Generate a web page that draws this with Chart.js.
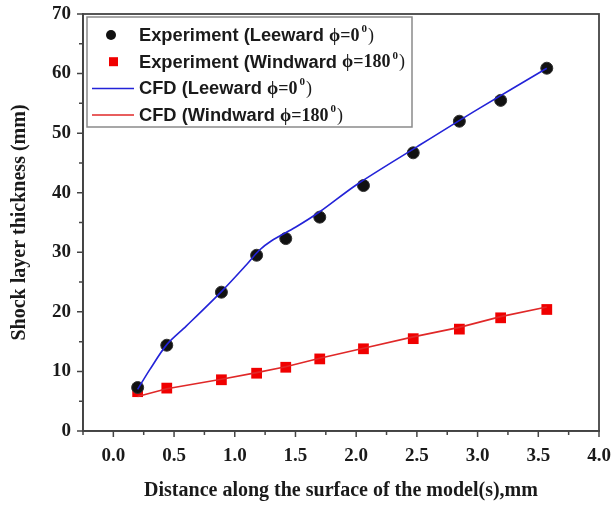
<!DOCTYPE html>
<html>
<head>
<meta charset="utf-8">
<script src="https://cdn.jsdelivr.net/npm/chart.js@4.4.1/dist/chart.umd.min.js"></script>
<style>
  html, body { margin: 0; padding: 0; background: #fff; }
  #wrap { width: 615px; height: 505px; }
</style>
</head>
<body>
<div id="wrap"><canvas id="shockChart" width="615" height="505"></canvas></div>
<script>
// experiment positions along the surface (mm)
const expX = [0.2, 0.44, 0.89, 1.18, 1.42, 1.70, 2.06, 2.47, 2.85, 3.19, 3.57];
const expLeeward = [7.3, 14.4, 23.3, 29.5, 32.3, 35.9, 41.2, 46.7, 52.0, 55.5, 60.9];
const expWindward = [6.6, 7.2, 8.6, 9.7, 10.7, 12.1, 13.8, 15.5, 17.1, 19.0, 20.4];

// CFD curves
const cfdLeewardX = [0.2, 0.3, 0.44, 0.6, 0.89, 1.1, 1.2, 1.3, 1.5, 1.7, 2.0, 2.5, 3.0, 3.57];
const cfdLeeward = [7.0, 10.3, 14.5, 17.6, 23.4, 28.0, 30.3, 31.9, 34.2, 36.8, 41.3, 47.7, 54.0, 60.9];
const cfdWindwardX = [0.2, 0.44, 0.89, 1.18, 1.42, 1.7, 2.06, 2.47, 2.85, 3.19, 3.57];
const cfdWindward = [5.8, 7.1, 8.7, 9.8, 10.8, 12.2, 13.9, 15.8, 17.4, 19.2, 20.8];

const xMajor = 0.5, xMinor = 0.25;
const yMajor = 10, yMinor = 5;

const legendItems = [
  { kind: "circle", color: "#111", text: "Experiment (Leeward ", ang: "0" },
  { kind: "square", color: "#f00000", text: "Experiment (Windward ", ang: "180" },
  { kind: "line", color: "#2323d8", text: "CFD (Leeward ", ang: "0" },
  { kind: "line", color: "#e02828", text: "CFD (Windward ", ang: "180" },
];

const AXIS_COLOR = "#444";
const SERIF = "'Liberation Serif', 'Times New Roman', serif";
const SANS = "'Liberation Sans', Arial, sans-serif";

const toPts = (xs, ys) => xs.map((x, i) => ({ x: x, y: ys[i] }));

function isMajor(v, step) {
  const r = v / step;
  return Math.abs(r - Math.round(r)) < 1e-6;
}

// frame, tick marks and legend box
const framePlugin = {
  id: "frame",
  afterDraw(chart) {
    const { ctx, chartArea: a, scales } = chart;
    ctx.save();
    ctx.strokeStyle = AXIS_COLOR;
    ctx.lineWidth = 1.8;
    ctx.strokeRect(a.left, a.top, a.right - a.left, a.bottom - a.top);

    ctx.lineWidth = 1.5;
    ctx.beginPath();
    scales.x.ticks.forEach((t) => {
      const px = scales.x.getPixelForValue(t.value);
      const len = isMajor(t.value, xMajor) ? 6 : 4;
      ctx.moveTo(px, a.bottom);
      ctx.lineTo(px, a.bottom + len);
    });
    scales.y.ticks.forEach((t) => {
      const py = scales.y.getPixelForValue(t.value);
      const len = isMajor(t.value, yMajor) ? 6 : 4;
      ctx.moveTo(a.left, py);
      ctx.lineTo(a.left - len, py);
    });
    ctx.stroke();

    // legend
    const bx = a.left + 4, by = a.top + 3, bw = 325, bh = 110;
    ctx.fillStyle = "#fff";
    ctx.fillRect(bx, by, bw, bh);
    ctx.strokeStyle = "#8a8a8a";
    ctx.lineWidth = 1.5;
    ctx.strokeRect(bx, by, bw, bh);

    const rowH = 26.7;
    legendItems.forEach((it, i) => {
      const cy = by + 18 + i * rowH;
      ctx.fillStyle = it.color;
      ctx.strokeStyle = it.color;
      if (it.kind === "circle") {
        ctx.beginPath();
        ctx.arc(bx + 24, cy, 5, 0, Math.PI * 2);
        ctx.fill();
      } else if (it.kind === "square") {
        ctx.fillRect(bx + 22, cy - 4.5, 9, 9);
      } else {
        ctx.lineWidth = 1.5;
        ctx.beginPath();
        ctx.moveTo(bx + 5, cy);
        ctx.lineTo(bx + 47, cy);
        ctx.stroke();
      }
      let tx = bx + 52;
      ctx.fillStyle = "#1a1a1a";
      ctx.textBaseline = "middle";
      ctx.textAlign = "left";
      ctx.font = "bold 18.3px " + SANS;
      ctx.fillText(it.text, tx, cy + 1);
      tx += ctx.measureText(it.text).width;
      ctx.font = "bold 18px " + SERIF;
      const mid = "\u03D5=" + it.ang;
      ctx.fillText(mid, tx, cy + 1);
      tx += ctx.measureText(mid).width + 2;
      ctx.font = "bold 11px " + SERIF;
      ctx.fillText("0", tx, cy - 6);
      tx += ctx.measureText("0").width + 1;
      ctx.font = "18px " + SERIF;
      ctx.fillText(")", tx, cy + 1);
    });
    ctx.restore();
  },
};

new Chart(document.getElementById("shockChart"), {
  type: "scatter",
  data: {
    datasets: [
      {
        label: "CFD (Leeward \u03D5=0\u00B0)",
        data: toPts(cfdLeewardX, cfdLeeward),
        showLine: true,
        borderColor: "#2323d8",
        borderWidth: 1.6,
        pointRadius: 0,
        tension: 0.3,
        order: 0,
      },
      {
        label: "CFD (Windward \u03D5=180\u00B0)",
        data: toPts(cfdWindwardX, cfdWindward),
        showLine: true,
        borderColor: "#e02828",
        borderWidth: 1.6,
        pointRadius: 0,
        tension: 0,
        order: 0,
      },
      {
        label: "Experiment (Leeward \u03D5=0\u00B0)",
        data: toPts(expX, expLeeward),
        backgroundColor: "#111",
        borderColor: "#333",
        borderWidth: 1,
        pointStyle: "circle",
        pointRadius: 6,
        order: 1,
      },
      {
        label: "Experiment (Windward \u03D5=180\u00B0)",
        data: toPts(expX, expWindward),
        backgroundColor: "#f00000",
        borderColor: "#e00000",
        borderWidth: 0,
        pointStyle: "rect",
        pointRadius: 7.6,
        order: 1,
      },
    ],
  },
  options: {
    responsive: false,
    animation: false,
    events: [],
    layout: { padding: { top: 14, right: 16, left: 0, bottom: 0 } },
    plugins: {
      legend: { display: false },
      tooltip: { enabled: false },
    },
    scales: {
      x: {
        type: "linear",
        min: -0.25,
        max: 4.0,
        afterFit: (scale) => {
          scale.height = 74;
          scale.paddingLeft = 0;
          scale.paddingRight = 0;
        },
        grid: { display: false, drawTicks: false },
        border: { display: true, color: AXIS_COLOR, width: 1.8 },
        ticks: {
          stepSize: xMinor,
          autoSkip: false,
          maxRotation: 0,
          padding: 14,
          color: "#1a1a1a",
          font: { family: SERIF, size: 19, weight: "bold" },
          callback: (v) => (isMajor(v, xMajor) ? v.toFixed(1) : ""),
        },
        title: {
          display: true,
          text: "Distance along the surface of the model(s),mm",
          color: "#1a1a1a",
          font: { family: SERIF, size: 20, weight: "bold" },
          padding: 2,
        },
      },
      y: {
        min: 0,
        max: 70,
        afterFit: (scale) => {
          scale.width = 83;
          scale.paddingTop = 0;
          scale.paddingBottom = 0;
        },
        grid: { display: false, drawTicks: false },
        border: { display: true, color: AXIS_COLOR, width: 1.8 },
        ticks: {
          stepSize: yMinor,
          autoSkip: false,
          padding: 12,
          color: "#1a1a1a",
          font: { family: SERIF, size: 19, weight: "bold" },
          callback: (v) => (isMajor(v, yMajor) ? String(v) : ""),
        },
        title: {
          display: true,
          text: "Shock layer thickness (mm)",
          color: "#1a1a1a",
          font: { family: SERIF, size: 20, weight: "bold" },
          padding: 8,
        },
      },
    },
  },
  plugins: [framePlugin],
});
</script>
</body>
</html>
